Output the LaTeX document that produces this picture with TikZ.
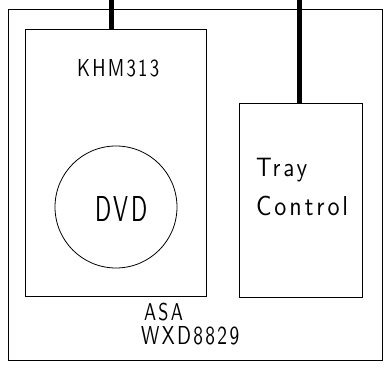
\documentclass[tikz,border=0pt]{standalone}
\usepackage{fontspec}
\usepackage{graphicx}
\newfontfamily\strokefont[LetterSpace=12]{Latin Modern Sans}
\newcommand{\fitlbl}[3]{\resizebox{#1}{#2}{\strokefont #3}}
\begin{document}
\begin{tikzpicture}[x=1pt,y=-1pt,
  box/.style={draw,line width=0.9pt},
  bus/.style={line width=5pt},
  lbl/.style={inner sep=0pt,anchor=base west}]
\useasboundingbox (0,0) rectangle (392,371);
\draw[box] (8,9) rectangle (382,360);
\node[box,minimum width=180.4pt,minimum height=266.7pt,inner sep=0pt,anchor=north west] (khm) at (25.3,29) {};
\node[box,minimum width=122.4pt,minimum height=194.3pt,inner sep=0pt,anchor=north west] (tray) at (239.3,102.7) {};
\node[draw,circle,line width=0.8pt,minimum size=122pt,inner sep=0pt] (dvd) at (116,207) {};
\coordinate (t1) at (111.7,0);
\coordinate (t2) at (299.3,0);
\draw[bus] (t1) -- (t1 |- khm.north);
\draw[bus] (t2) -- (t2 |- tray.north);
\node[lbl] (k) at (77,76.7) {\fitlbl{82pt}{17pt}{KHM313}};
\node[lbl] (d) at (95,221.7) {\fitlbl{52pt}{25pt}{DVD}};
\node[lbl] (tr) at (256,176.7) {\fitlbl{51pt}{18.3pt}{Tray}};
\node[lbl] (co) at (256,216) {\fitlbl{92pt}{19.3pt}{Control}};
\node[lbl] (asa) at (144,320.7) {\fitlbl{38.7pt}{17.4pt}{ASA}};
\node[lbl] (wxd) at (141,345) {\fitlbl{98pt}{18pt}{WXD8829}};
\end{tikzpicture}
\end{document}
